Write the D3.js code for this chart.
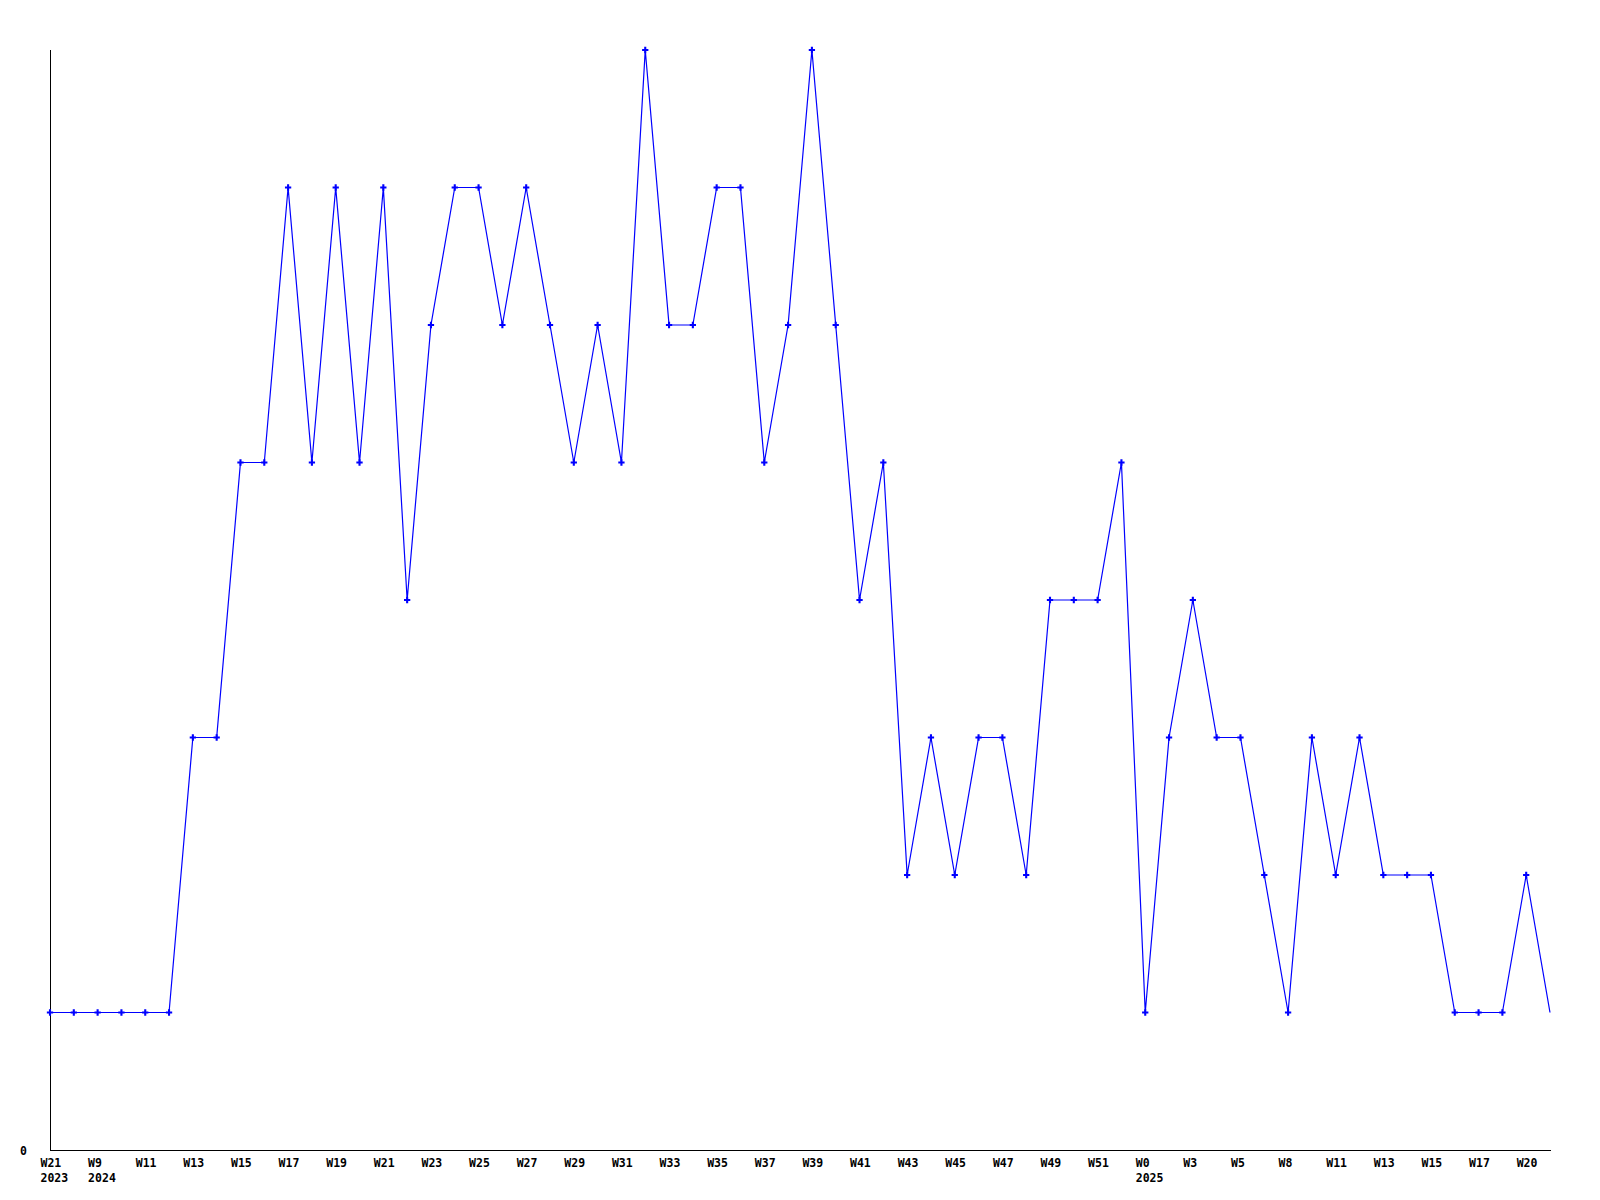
<!DOCTYPE html>
<html>
<head>
<meta charset="utf-8">
<script src="https://cdn.jsdelivr.net/npm/d3@7"></script>
<style>
  html, body { margin: 0; padding: 0; background: #fff; }
  svg { display: block; }
  .lbl { font-family: "DejaVu Sans Mono", "Liberation Mono", monospace; font-weight: bold; font-size: 11.5px; fill: #000; }
</style>
</head>
<body>
<script>
// Values per week (64 consecutive weeks)
const values = [1,1,1,1,1,1,3,3,5,5,7,5,7,5,7,4,6,7,7,6,7,6,5,6,5,8,6,6,7,7,5,6,8,6,4,5,2,3,2,3,3,2,4,4,4,5,1,3,4,3,3,2,1,3,2,3,2,2,2,1,1,1,2,1];
// Tick labels shown under every second week
const tickIndex = [0,2,4,6,8,10,12,14,16,18,20,22,24,26,28,30,32,34,36,38,40,42,44,46,48,50,52,54,56,58,60,62];
const tickLabels = ["W21","W9","W11","W13","W15","W17","W19","W21","W23","W25","W27","W29","W31","W33","W35","W37","W39","W41","W43","W45","W47","W49","W51","W0","W3","W5","W8","W11","W13","W15","W17","W20"];
const yearLabels = ["2023","2024","","","","","","","","","","","","","","","","","","","","","","2025","","","","","","","",""];
const yTicks = [0];

const W = 1600, H = 1200;
const mLeft = 50, mRight = 1550, mTop = 50, mBottom = 1150;

const svg = d3.select("body").append("svg").attr("width", W).attr("height", H);

const x = d3.scaleLinear().domain([0, values.length - 1]).range([mLeft, mRight]);
const y = d3.scaleLinear().domain([0, 8]).range([mBottom, mTop]);

// Axes
const xAxis = d3.axisBottom(x)
  .tickValues(tickIndex)
  .tickFormat((d, i) => tickLabels[i])
  .tickSize(0)
  .tickSizeOuter(0);
const gx = svg.append("g").attr("transform", `translate(0,${mBottom})`).call(xAxis);
gx.select(".domain").attr("stroke", "#000").attr("stroke-width", 1).attr("d", `M${mLeft},0.5H${mRight + 1}`);
gx.selectAll(".tick text")
  .attr("class", "lbl")
  .attr("text-anchor", "start")
  .attr("x", -10)
  .attr("y", 17)
  .attr("dy", null)
  .each(function(d, i) {
    const t = d3.select(this);
    const yr = yearLabels[i];
    if (yr) {
      t.append("tspan").attr("x", -10).attr("dy", 15).text(yr);
    }
  });

const yAxis = d3.axisLeft(y).tickValues(yTicks).tickFormat(d3.format("d")).tickSize(0).tickPadding(23);
const gy = svg.append("g").attr("transform", `translate(${mLeft},0)`).call(yAxis);
gy.select(".domain").attr("stroke", "#000").attr("stroke-width", 1).attr("d", `M0.5,${mTop}V${mBottom + 1}`);
gy.selectAll(".tick text").attr("class", "lbl").attr("dy", "0.35em");

// Line
const line = d3.line().x((d, i) => x(i)).y(d => y(d));
svg.append("path")
  .datum(values)
  .attr("fill", "none")
  .attr("stroke", "#0000ff")
  .attr("stroke-width", 1.2)
  .attr("d", line);

// Markers (last point sits on the plot edge and has no marker)
const sym = d3.symbol().type(d3.symbolCross).size(22);
svg.append("g").selectAll("path")
  .data(values.slice(0, values.length - 1))
  .join("path")
  .attr("transform", (d, i) => `translate(${x(i)},${y(d)})`)
  .attr("d", sym)
  .attr("fill", "#0000ff");
</script>
</body>
</html>
